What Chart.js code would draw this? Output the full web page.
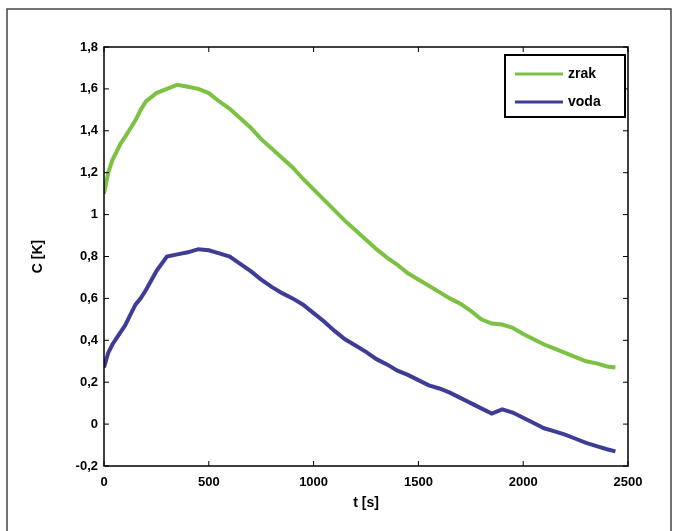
<!DOCTYPE html>
<html>
<head>
<meta charset="utf-8">
<script src="https://cdn.jsdelivr.net/npm/chart.js@4"></script>
<style>
  html, body { margin: 0; padding: 0; background: #fff; }
  #wrap { width: 678px; height: 531px; position: relative; }
</style>
</head>
<body>
<div id="wrap"><canvas id="chart"></canvas></div>
<script>
const times = [0, 20, 40, 60, 80, 100, 125, 150, 175, 200, 250, 300, 350, 400, 450, 500, 550, 600, 650, 700,
  750, 800, 850, 900, 950, 1000, 1050, 1100, 1150, 1200, 1250, 1300, 1350, 1400, 1450, 1500, 1550, 1600,
  1650, 1700, 1750, 1800, 1850, 1900, 1950, 2000, 2050, 2100, 2150, 2200, 2250, 2300, 2350, 2400, 2440]

const zrak = [1.10, 1.20, 1.26, 1.30, 1.34, 1.37, 1.41, 1.45, 1.50, 1.54, 1.58, 1.60, 1.62, 1.61, 1.60, 1.58,
  1.54, 1.505, 1.46, 1.415, 1.36, 1.315, 1.27, 1.225, 1.17, 1.12, 1.07, 1.02, 0.97, 0.925, 0.88, 0.835,
  0.795, 0.76, 0.72, 0.69, 0.66, 0.63, 0.60, 0.575, 0.54, 0.50, 0.48, 0.475, 0.46, 0.43, 0.405, 0.38,
  0.36, 0.34, 0.32, 0.30, 0.29, 0.275, 0.27]

const voda = [0.27, 0.34, 0.38, 0.41, 0.44, 0.47, 0.52, 0.57, 0.60, 0.64, 0.73, 0.80, 0.81, 0.82, 0.835, 0.83,
  0.815, 0.80, 0.765, 0.73, 0.69, 0.655, 0.625, 0.60, 0.57, 0.53, 0.49, 0.445, 0.405, 0.375, 0.345, 0.31,
  0.285, 0.255, 0.235, 0.21, 0.185, 0.17, 0.15, 0.125, 0.10, 0.075, 0.05, 0.07, 0.055, 0.03, 0.005, -0.02,
  -0.035, -0.05, -0.07, -0.09, -0.105, -0.12, -0.13]

const seriesNames = ["zrak", "voda"]
const xTitle = "t [s]"
const yTitle = "C [K]"

const font = {family: "'Liberation Sans', Arial, sans-serif", size: 13, weight: "bold"}

function pts(vals) {
  return vals.map((v, i) => ({x: times[i], y: v}))
}

function comma(v) {
  return String(Math.round(v * 10) / 10).replace(".", ",")
}

// matlab style: box, inward ticks, legend box, outer frame
const decor = {
  id: "decor",
  afterDraw(chart) {
    const ctx = chart.ctx
    const a = chart.chartArea
    const xs = chart.scales.x, ys = chart.scales.y
    ctx.save()
    ctx.strokeStyle = "#000"
    ctx.lineWidth = 1.5
    ctx.strokeRect(a.left, a.top, a.right - a.left, a.bottom - a.top)
    ctx.lineWidth = 1
    ctx.beginPath()
    xs.ticks.forEach(t => {
      const px = xs.getPixelForValue(t.value)
      ctx.moveTo(px, a.bottom); ctx.lineTo(px, a.bottom - 5)
      ctx.moveTo(px, a.top); ctx.lineTo(px, a.top + 5)
    })
    ys.ticks.forEach(t => {
      const py = ys.getPixelForValue(t.value)
      ctx.moveTo(a.left, py); ctx.lineTo(a.left + 5, py)
      ctx.moveTo(a.right, py); ctx.lineTo(a.right - 5, py)
    })
    ctx.stroke()

    // legend
    const lx = 505, ly = 55, lw = 120, lh = 62
    ctx.fillStyle = "#fff"
    ctx.fillRect(lx, ly, lw, lh)
    ctx.lineWidth = 2
    ctx.strokeRect(lx, ly, lw, lh)
    ctx.font = "bold 14px 'Liberation Sans', Arial, sans-serif"
    ctx.textBaseline = "middle"
    chart.data.datasets.forEach((d, i) => {
      const y = ly + 19 + i * 28
      ctx.strokeStyle = d.borderColor
      ctx.lineWidth = 3
      ctx.beginPath(); ctx.moveTo(lx + 10, y); ctx.lineTo(lx + 58, y); ctx.stroke()
      ctx.fillStyle = "#000"
      ctx.fillText(d.label, lx + 63, y)
    })

    // axis titles
    ctx.fillStyle = "#000"
    ctx.font = "bold 14px 'Liberation Sans', Arial, sans-serif"
    ctx.textAlign = "center"
    ctx.fillText(xTitle, (a.left + a.right) / 2, 503)
    ctx.translate(38, (a.top + a.bottom) / 2)
    ctx.rotate(-Math.PI / 2)
    ctx.fillText(yTitle, 0, 0)
    ctx.restore()

    // outer frame
    ctx.save()
    ctx.strokeStyle = "#444"
    ctx.lineWidth = 1.5
    ctx.strokeRect(7, 9, 664, 540)
    ctx.restore()
  }
}

const chart = new Chart("chart", {
  type: "line",
  data: {
    datasets: [{
        label: seriesNames[0],
        data: pts(zrak),
        borderColor: "#7cc142",
      }, {
        label: seriesNames[1],
        data: pts(voda),
        borderColor: "#3f3c95",
      }
    ]
  },
  options: {
    responsive: true,
    maintainAspectRatio: false,
    animation: false,
    layout: {padding: {left: 0, top: 47, right: 50, bottom: 0}},
    plugins: {
      legend: {display: false},
      tooltip: {enabled: false},
    },
    scales: {
      x: {
        type: "linear",
        min: 0, max: 2500,
        border: {display: false},
        grid: {display: false, drawTicks: false},
        ticks: {stepSize: 500, color: "#000", font: font, padding: 9, maxRotation: 0, callback: v => String(v)},
        afterFit(s) { s.height = 65 }
      },
      y: {
        min: -0.2, max: 1.8,
        border: {display: false},
        grid: {display: false, drawTicks: false},
        ticks: {stepSize: 0.2, color: "#000", font: font, padding: 6, callback: v => comma(v)},
        afterFit(s) { s.width = 104 }
      }
    },
    elements: {
      point: {radius: 0},
      line: {borderWidth: 4, tension: 0},
    },
  },
  plugins: [decor]
})
</script>
</body>
</html>
